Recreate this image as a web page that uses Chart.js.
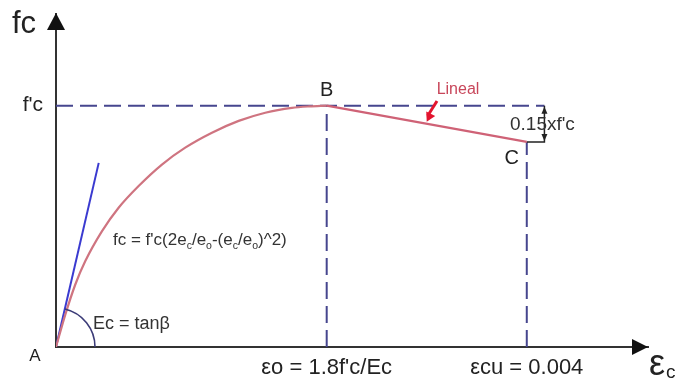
<!DOCTYPE html>
<html>
<head>
<meta charset="utf-8">
<script src="https://cdn.jsdelivr.net/npm/chart.js@4/dist/chart.umd.min.js"></script>
<style>
  html, body { margin: 0; padding: 0; background: #fff; }
  #wrap { width: 681px; height: 385px; }
</style>
</head>
<body>
<div id="wrap"><canvas id="chart-hognestad" width="681" height="385"></canvas></div>
<script>
// parabolic branch A-B: strain and stress (as a fraction of f'c)
var parabolaStrain = [0, 0.000079, 0.000164, 0.000249, 0.000391, 0.000532, 0.000702, 0.0009, 0.001098, 0.001325, 0.001552, 0.001778, 0.002004, 0.00215, 0.0023];
var parabolaStress = [0, 0.134, 0.259, 0.356, 0.48, 0.577, 0.667, 0.756, 0.826, 0.888, 0.937, 0.971, 0.991, 0.997, 1];

// linear branch B-C, drops 0.15 f'c down to the ultimate strain
var epsO = 0.0023;
var epsCu = 0.004;
var dropC = 0.15;
var linearStrain = [epsO, epsCu];
var linearStress = [1, 1 - dropC];

// initial tangent, Ec
var tangentStrain = [0, 0.000363];
var tangentStress = [0, 0.763];

// where the 0.15xf'c dimension bracket sits
var bracketStrain = 0.00415;

var xTicks = [epsO, epsCu];
var xTickLabels = ["\u03b5o = 1.8f'c/Ec", "\u03b5cu = 0.004"];
var yTicks = [1];
var yTickLabels = ["f'c"];

function pts(xs, ys) {
  return xs.map(function(v, i) { return { x: v, y: ys[i] }; });
}

var FONT = "'Liberation Sans', Arial, sans-serif";
var NAVY = '#46468e';

function arrowHead(ctx, tipX, tipY, ang, len, half) {
  ctx.save();
  ctx.translate(tipX, tipY);
  ctx.rotate(ang);
  ctx.beginPath();
  ctx.moveTo(0, 0);
  ctx.lineTo(-len, -half);
  ctx.lineTo(-len, half);
  ctx.closePath();
  ctx.fill();
  ctx.restore();
}

// text with subscript pieces: parts = [[text, isSub], ...]
function richText(ctx, x, y, parts, size) {
  ctx.textAlign = 'left';
  ctx.textBaseline = 'alphabetic';
  parts.forEach(function(p) {
    var s = p[1] ? size * 0.62 : size;
    ctx.font = s + 'px ' + FONT;
    ctx.fillText(p[0], x, y + (p[1] ? size * 0.22 : 0));
    x += ctx.measureText(p[0]).width;
  });
}

var notes = {
  id: 'notes',
  afterDatasetsDraw: function(chart) {
    var ctx = chart.ctx;
    var sx = chart.scales.x, sy = chart.scales.y;
    var area = chart.chartArea;
    var px = function(v) { return sx.getPixelForValue(v); };
    var py = function(v) { return sy.getPixelForValue(v); };

    ctx.save();

    // axis arrows
    ctx.fillStyle = '#111';
    arrowHead(ctx, area.left, area.top - 1, -Math.PI / 2, 17, 9);
    arrowHead(ctx, area.right, area.bottom, 0, 16, 8);

    // dimension bracket arrows
    var bx = px(bracketStrain);
    ctx.fillStyle = '#222';
    arrowHead(ctx, bx, py(1) + 1, -Math.PI / 2, 7, 3);
    arrowHead(ctx, bx, py(1 - dropC) - 1, Math.PI / 2, 7, 3);

    // angle beta at A
    var ang = Math.atan2(py(tangentStress[1]) - py(0), px(tangentStrain[1]) - px(0));
    ctx.strokeStyle = '#3c3c78';
    ctx.lineWidth = 1.6;
    ctx.beginPath();
    ctx.arc(px(0), py(0), 39, ang, 0);
    ctx.stroke();

    ctx.fillStyle = '#222';
    ctx.textAlign = 'left';
    ctx.textBaseline = 'alphabetic';
    ctx.font = '31px ' + FONT;
    ctx.fillText('fc', 12, 33);

    ctx.textAlign = 'center';
    ctx.textBaseline = 'middle';
    ctx.font = '17px ' + FONT;
    ctx.fillText('A', 35, 356);
    ctx.font = '20px ' + FONT;
    ctx.fillText('B', px(epsO), py(1) - 15);
    ctx.fillText('C', px(epsCu) - 15, py(1 - dropC) + 17);

    ctx.font = '19px ' + FONT;
    ctx.fillStyle = '#333';
    ctx.fillText("0.15xf'c", bx - 2, (py(1) + py(1 - dropC)) / 2 + 1);

    // "Lineal" callout
    ctx.font = '16px ' + FONT;
    ctx.fillStyle = '#c8465a';
    ctx.fillText('Lineal', 458, 90);
    var tx = 0.00315;
    var ty = 1 - dropC * (tx - epsO) / (epsCu - epsO);
    var ex = px(tx), ey = py(ty) - 2;
    ctx.strokeStyle = '#e3142e';
    ctx.fillStyle = '#e3142e';
    ctx.lineWidth = 3;
    ctx.beginPath();
    ctx.moveTo(437, 101);
    ctx.lineTo(ex + 1, ey - 6);
    ctx.stroke();
    arrowHead(ctx, ex, ey, Math.atan2(ey - 101, ex - 437), 9, 5);

    ctx.fillStyle = '#333';
    richText(ctx, 113, 245, [['fc = f\'c(2e', 0], ['c', 1], ['/e', 0], ['o', 1], ['-(e', 0], ['c', 1], ['/e', 0], ['o', 1], [')^2)', 0]], 17);
    richText(ctx, 93, 329, [['Ec = tan\u03b2', 0]], 18);

    // strain axis title
    ctx.fillStyle = '#222';
    richText(ctx, 649, 375, [['\u03b5', 0]], 36);
    richText(ctx, 666, 378, [['c', 0]], 19);

    ctx.restore();
  }
};

var lineStyle = { pointRadius: 0, fill: false, showLine: true };
var noEdgePadding = function(scale) {
  scale.paddingTop = 0; scale.paddingBottom = 0;
  scale.paddingLeft = 0; scale.paddingRight = 0;
};

new Chart(document.getElementById('chart-hognestad').getContext('2d'), {
  type: 'scatter',
  data: {
    datasets: [
      Object.assign({ label: 'parabola', data: pts(parabolaStrain, parabolaStress), borderColor: '#cf7480', borderWidth: 2.2, cubicInterpolationMode: 'monotone' }, lineStyle),
      Object.assign({ label: 'linear', data: pts(linearStrain, linearStress), borderColor: '#cf6276', borderWidth: 2.2 }, lineStyle),
      Object.assign({ label: 'Ec', data: pts(tangentStrain, tangentStress), borderColor: '#3a3ad0', borderWidth: 2 }, lineStyle),
      Object.assign({ label: 'bracket', data: pts([epsCu, bracketStrain, bracketStrain], [1 - dropC, 1 - dropC, 1]), borderColor: '#222', borderWidth: 1.5 }, lineStyle),
      Object.assign({ label: "f'c", data: pts([0, bracketStrain], [1, 1]), borderColor: NAVY, borderWidth: 2, borderDash: [17, 7] }, lineStyle),
      Object.assign({ label: 'eps o', data: pts([epsO, epsO], [0, 1]), borderColor: NAVY, borderWidth: 2, borderDash: [17, 7] }, lineStyle),
      Object.assign({ label: 'eps cu', data: pts([epsCu, epsCu], [0, 1 - dropC]), borderColor: NAVY, borderWidth: 2, borderDash: [17, 7] }, lineStyle)
    ]
  },
  options: {
    responsive: false,
    animation: false,
    devicePixelRatio: 1,
    layout: { padding: { top: 14, right: 33, left: 0, bottom: 0 } },
    plugins: { legend: { display: false }, tooltip: { enabled: false } },
    scales: {
      x: {
        type: 'linear', min: 0, max: 0.00503,
        grid: { display: false, drawTicks: false },
        border: { display: true, color: '#333', width: 2 },
        afterBuildTicks: function(scale) { scale.ticks = xTicks.map(function(v) { return { value: v }; }); },
        afterFit: function(scale) { scale.height = 38; noEdgePadding(scale); },
        ticks: {
          autoSkip: false, maxRotation: 0, padding: 8, color: '#222',
          font: { family: FONT, size: 22 },
          callback: function(v, i) { return xTickLabels[i]; }
        }
      },
      y: {
        type: 'linear', min: 0, max: 1.38,
        grid: { display: false, drawTicks: false },
        border: { display: true, color: '#333', width: 2 },
        afterBuildTicks: function(scale) { scale.ticks = yTicks.map(function(v) { return { value: v }; }); },
        afterFit: function(scale) { scale.width = 56; noEdgePadding(scale); },
        ticks: {
          padding: 13, color: '#222',
          font: { family: FONT, size: 21 },
          callback: function(v, i) { return yTickLabels[i]; }
        }
      }
    }
  },
  plugins: [notes]
});
</script>
</body>
</html>
